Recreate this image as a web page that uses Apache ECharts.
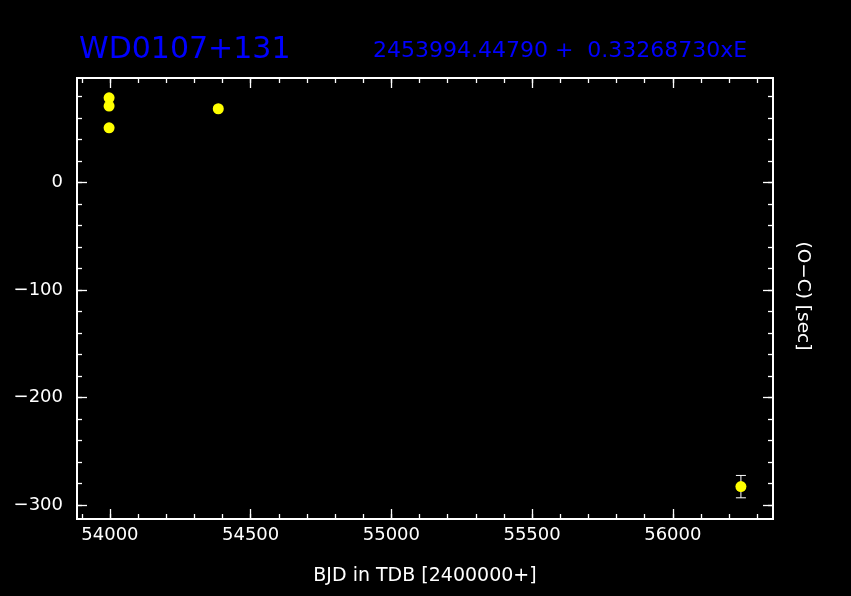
<!DOCTYPE html>
<html><head><meta charset="utf-8">
<script src="https://cdn.jsdelivr.net/npm/echarts@6/dist/echarts.min.js"></script>
<style>html,body{margin:0;padding:0;background:#000}#c{width:851px;height:596px}</style>
</head><body><div id="c"></div><script>
const bjd = [53997, 53997, 53997, 54385, 56242];
const oc = [78.6, 70.9, 50.7, 68.4, -282.9];
const ocErr = [null, null, null, null, 10.4];
const xMajorTicks = [54000, 54500, 55000, 55500, 56000];
const xMinorTicks = [53900, 54000, 54100, 54200, 54300, 54400, 54500, 54600, 54700, 54800, 54900, 55000, 55100, 55200, 55300, 55400, 55500, 55600, 55700, 55800, 55900, 56000, 56100, 56200, 56300];
const yMajorTicks = [-300, -200, -100, 0];
const yMinorTicks = [-300, -280, -260, -240, -220, -200, -180, -160, -140, -120, -100, -80, -60, -40, -20, 0, 20, 40, 60, 80];
const titleText = 'WD0107+131';
const ephemText = '2453994.44790 +  0.33268730xE';
const xAxisName = 'BJD in TDB [2400000+]';
const yAxisName = '(O\u2212C) [sec]';

const X_MIN = 53883, X_MAX = 56356, Y_MIN = -313, Y_MAX = 97;
const FONT = '"DejaVu Sans", sans-serif';
const W = '#ffffff';

function xAx(pos, ticks, len, labels) {
  return {
    type: 'value', position: pos, min: X_MIN, max: X_MAX, gridIndex: 0,
    axisLine: { show: true, onZero: false, lineStyle: { color: W, width: 2 } },
    axisTick: { show: true, inside: true, length: len, customValues: ticks, lineStyle: { color: W, width: 1.3 } },
    axisLabel: labels ? { show: true, customValues: ticks, color: W, fontSize: 18, fontFamily: FONT, margin: 7,
      formatter: v => String(v) } : { show: false },
    splitLine: { show: false }
  };
}
function yAx(pos, ticks, len, labels) {
  return {
    type: 'value', position: pos, min: Y_MIN, max: Y_MAX, gridIndex: 0,
    axisLine: { show: true, onZero: false, lineStyle: { color: W, width: 2 } },
    axisTick: { show: true, inside: true, length: len, customValues: ticks, lineStyle: { color: W, width: 1.3 } },
    axisLabel: labels ? { show: true, customValues: ticks, color: W, fontSize: 18, fontFamily: FONT, margin: 14,
      formatter: v => String(v).replace('-', '\u2212') } : { show: false },
    splitLine: { show: false }
  };
}

const chart = echarts.init(document.getElementById('c'), null, { renderer: 'canvas' });
chart.setOption({
  backgroundColor: '#000',
  animation: false,
  grid: { left: 77, top: 78, width: 696, height: 441, containLabel: false },
  xAxis: [xAx('bottom', xMajorTicks, 10, true), xAx('bottom', xMinorTicks, 5, false), xAx('top', xMajorTicks, 10, false), xAx('top', xMinorTicks, 5, false)],
  yAxis: [yAx('left', yMajorTicks, 10, true), yAx('left', yMinorTicks, 5, false), yAx('right', yMajorTicks, 10, false), yAx('right', yMinorTicks, 5, false)],
  graphic: [
    { type: 'text', left: 79, top: 35, style: { text: titleText, fill: '#0000ff', font: '30px ' + FONT } },
    { type: 'text', left: 373, top: 40, style: { text: ephemText, fill: '#0000ff', font: '22px ' + FONT } },
    { type: 'text', x: 425, y: 576, style: { text: xAxisName, fill: W, font: '19px ' + FONT, align: 'center', verticalAlign: 'middle' } },
    { type: 'text', x: 803, y: 296, rotation: -Math.PI / 2, style: { text: yAxisName, fill: W, font: '18.5px ' + FONT, align: 'center', verticalAlign: 'middle' } }
  ],
  series: [
    {
      type: 'custom', xAxisIndex: 0, yAxisIndex: 0, z: 1,
      data: bjd.map((x, i) => [x, oc[i], ocErr[i]]).filter(d => d[2] != null),
      renderItem: function (params, api) {
        const x = api.value(0), y = api.value(1), e = api.value(2);
        const top = api.coord([x, y + e]), bot = api.coord([x, y - e]);
        const hw = 5;
        const st = { stroke: W, lineWidth: 1 };
        return { type: 'group', children: [
          { type: 'line', shape: { x1: top[0], y1: top[1], x2: bot[0], y2: bot[1] }, style: st },
          { type: 'line', shape: { x1: top[0] - hw, y1: top[1], x2: top[0] + hw, y2: top[1] }, style: st },
          { type: 'line', shape: { x1: bot[0] - hw, y1: bot[1], x2: bot[0] + hw, y2: bot[1] }, style: st }
        ] };
      }
    },
    {
      type: 'scatter', xAxisIndex: 0, yAxisIndex: 0, z: 2,
      symbol: 'circle', symbolSize: 11,
      itemStyle: { color: '#ffff00', opacity: 1 },
      data: bjd.map((x, i) => [x, oc[i]])
    }
  ]
});
</script></body></html>
